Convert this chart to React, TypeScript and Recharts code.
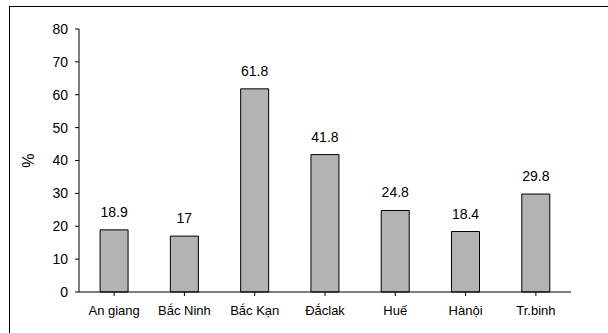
import React from 'react';
import { BarChart, Bar, XAxis, YAxis, LabelList, Label } from 'recharts';

const provinces = ['An giang', 'Bắc Ninh', 'Bắc Kạn', 'Đắclak', 'Huế', 'Hànội', 'Tr.binh'];
const percentages = [18.9, 17, 61.8, 41.8, 24.8, 18.4, 29.8];
const yTicks = [0, 10, 20, 30, 40, 50, 60, 70, 80];

const data = provinces.map((name, i) => ({ name, value: percentages[i] }));

const font = 'Liberation Sans, Arial, sans-serif';

export default function App() {
  return (
    <div
      style={{
        position: 'absolute',
        left: 9,
        top: 6,
        width: 620,
        height: 340,
        borderTop: '1px solid #000',
        borderLeft: '1px solid #000',
        fontFamily: font,
      }}
    >
      <BarChart
        width={598}
        height={326}
        data={data}
        margin={{ top: 22, right: 37, left: 29, bottom: 11 }}
        barCategoryGap="30%"
      >
        <XAxis
          dataKey="name"
          stroke="#000"
          tickSize={4}
          tickMargin={10}
          tick={{ fill: '#000', fontSize: 13, fontFamily: font }}
          interval={0}
          height={30}
        />
        <YAxis
          domain={[0, 80]}
          ticks={yTicks}
          stroke="#000"
          tickSize={4}
          tickMargin={7}
          width={40}
          tick={{ fill: '#000', fontSize: 14, fontFamily: font }}
        >
          <Label
            content={({ viewBox }: any) => (
              <text
                x={viewBox.x - 11}
                y={viewBox.y + viewBox.height / 2}
                transform={`rotate(-90, ${viewBox.x - 11}, ${viewBox.y + viewBox.height / 2})`}
                textAnchor="middle"
                dominantBaseline="central"
                fontSize={16}
                fontFamily={font}
                fill="#000"
              >
                %
              </text>
            )}
          />
        </YAxis>
        <Bar dataKey="value" fill="#b3b3b3" stroke="#000" strokeWidth={1} isAnimationActive={false}>
          <LabelList dataKey="value" position="top" offset={13} fill="#000" fontSize={14} fontFamily={font} />
        </Bar>
      </BarChart>
    </div>
  );
}
